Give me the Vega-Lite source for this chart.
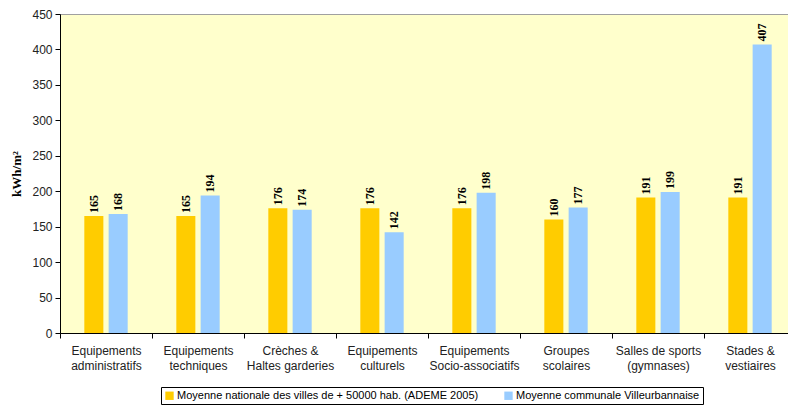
{
  "$schema": "https://vega.github.io/schema/vega-lite/v6.json",
  "width": 728,
  "height": 319,
  "autosize": {"type": "none"},
  "padding": {"left": 60, "top": 14, "right": 0, "bottom": 74},
  "background": "white",
  "config": {"view": {"fill": "#FFFFCC", "stroke": "#A0A0A0"}},
  "data": {
    "values": [
      {"cat": "Equipements|administratifs", "serie": "Moyenne nationale des villes de + 50000 hab. (ADEME 2005)", "value": 165},
      {"cat": "Equipements|administratifs", "serie": "Moyenne communale Villeurbannaise", "value": 168},
      {"cat": "Equipements|techniques", "serie": "Moyenne nationale des villes de + 50000 hab. (ADEME 2005)", "value": 165},
      {"cat": "Equipements|techniques", "serie": "Moyenne communale Villeurbannaise", "value": 194},
      {"cat": "Crèches &|Haltes garderies", "serie": "Moyenne nationale des villes de + 50000 hab. (ADEME 2005)", "value": 176},
      {"cat": "Crèches &|Haltes garderies", "serie": "Moyenne communale Villeurbannaise", "value": 174},
      {"cat": "Equipements|culturels", "serie": "Moyenne nationale des villes de + 50000 hab. (ADEME 2005)", "value": 176},
      {"cat": "Equipements|culturels", "serie": "Moyenne communale Villeurbannaise", "value": 142},
      {"cat": "Equipements|Socio-associatifs", "serie": "Moyenne nationale des villes de + 50000 hab. (ADEME 2005)", "value": 176},
      {"cat": "Equipements|Socio-associatifs", "serie": "Moyenne communale Villeurbannaise", "value": 198},
      {"cat": "Groupes|scolaires", "serie": "Moyenne nationale des villes de + 50000 hab. (ADEME 2005)", "value": 160},
      {"cat": "Groupes|scolaires", "serie": "Moyenne communale Villeurbannaise", "value": 177},
      {"cat": "Salles de sports|(gymnases)", "serie": "Moyenne nationale des villes de + 50000 hab. (ADEME 2005)", "value": 191},
      {"cat": "Salles de sports|(gymnases)", "serie": "Moyenne communale Villeurbannaise", "value": 199},
      {"cat": "Stades &|vestiaires", "serie": "Moyenne nationale des villes de + 50000 hab. (ADEME 2005)", "value": 191},
      {"cat": "Stades &|vestiaires", "serie": "Moyenne communale Villeurbannaise", "value": 407}
    ]
  },
  "encoding": {
    "x": {
      "field": "cat", "type": "nominal", "sort": null,
      "scale": {"paddingInner": 0, "paddingOuter": 0, "range": [0, 736]},
      "axis": {
        "title": null, "labelAngle": 0, "labelExpr": "split(datum.label, '|')",
        "tickBand": "extent", "domainColor": "black", "tickColor": "black",
        "labelFont": "Liberation Sans", "labelFontSize": 12, "labelColor": "#222222",
        "labelPadding": 7, "tickSize": 5, "labelLineHeight": 15
      }
    },
    "xOffset": {
      "field": "serie", "type": "nominal", "sort": null,
      "scale": {"paddingInner": 0.217, "paddingOuter": 1.1085}
    },
    "y": {
      "field": "value", "type": "quantitative",
      "scale": {"domain": [0, 450], "nice": false},
      "axis": {
        "title": "kWh/m²", "values": [0, 50, 100, 150, 200, 250, 300, 350, 400, 450],
        "grid": false, "domainColor": "black", "tickColor": "black", "tickSize": 5,
        "labelFont": "Liberation Sans", "labelFontSize": 12, "labelColor": "#222222", "labelPadding": 3,
        "titleFont": "Liberation Serif", "titleFontWeight": "bold", "titleFontSize": 13,
        "titleColor": "black", "titlePadding": 8
      }
    }
  },
  "layer": [
    {
      "mark": {"type": "bar"},
      "encoding": {
        "color": {
          "field": "serie", "type": "nominal", "sort": null,
          "scale": {
            "domain": ["Moyenne nationale des villes de + 50000 hab. (ADEME 2005)", "Moyenne communale Villeurbannaise"],
            "range": ["#FFCC00", "#99CCFF"]
          },
          "legend": {
            "title": null, "orient": "none", "legendX": 101, "legendY": 373,
            "direction": "horizontal", "strokeColor": "black", "fillColor": "white",
            "padding": 3, "symbolType": "square", "symbolSize": 70, "symbolStrokeWidth": 0,
            "labelFont": "Liberation Sans", "labelFontSize": 11, "labelColor": "black",
            "labelLimit": 400, "columnPadding": 24, "labelOffset": 2, "cornerRadius": 0
          }
        }
      }
    },
    {
      "mark": {
        "type": "text", "angle": 270, "align": "left", "baseline": "middle", "dx": 3,
        "font": "Liberation Serif", "fontWeight": "bold", "fontSize": 12, "color": "black"
      },
      "encoding": {"text": {"field": "value", "type": "quantitative"}}
    }
  ]
}
